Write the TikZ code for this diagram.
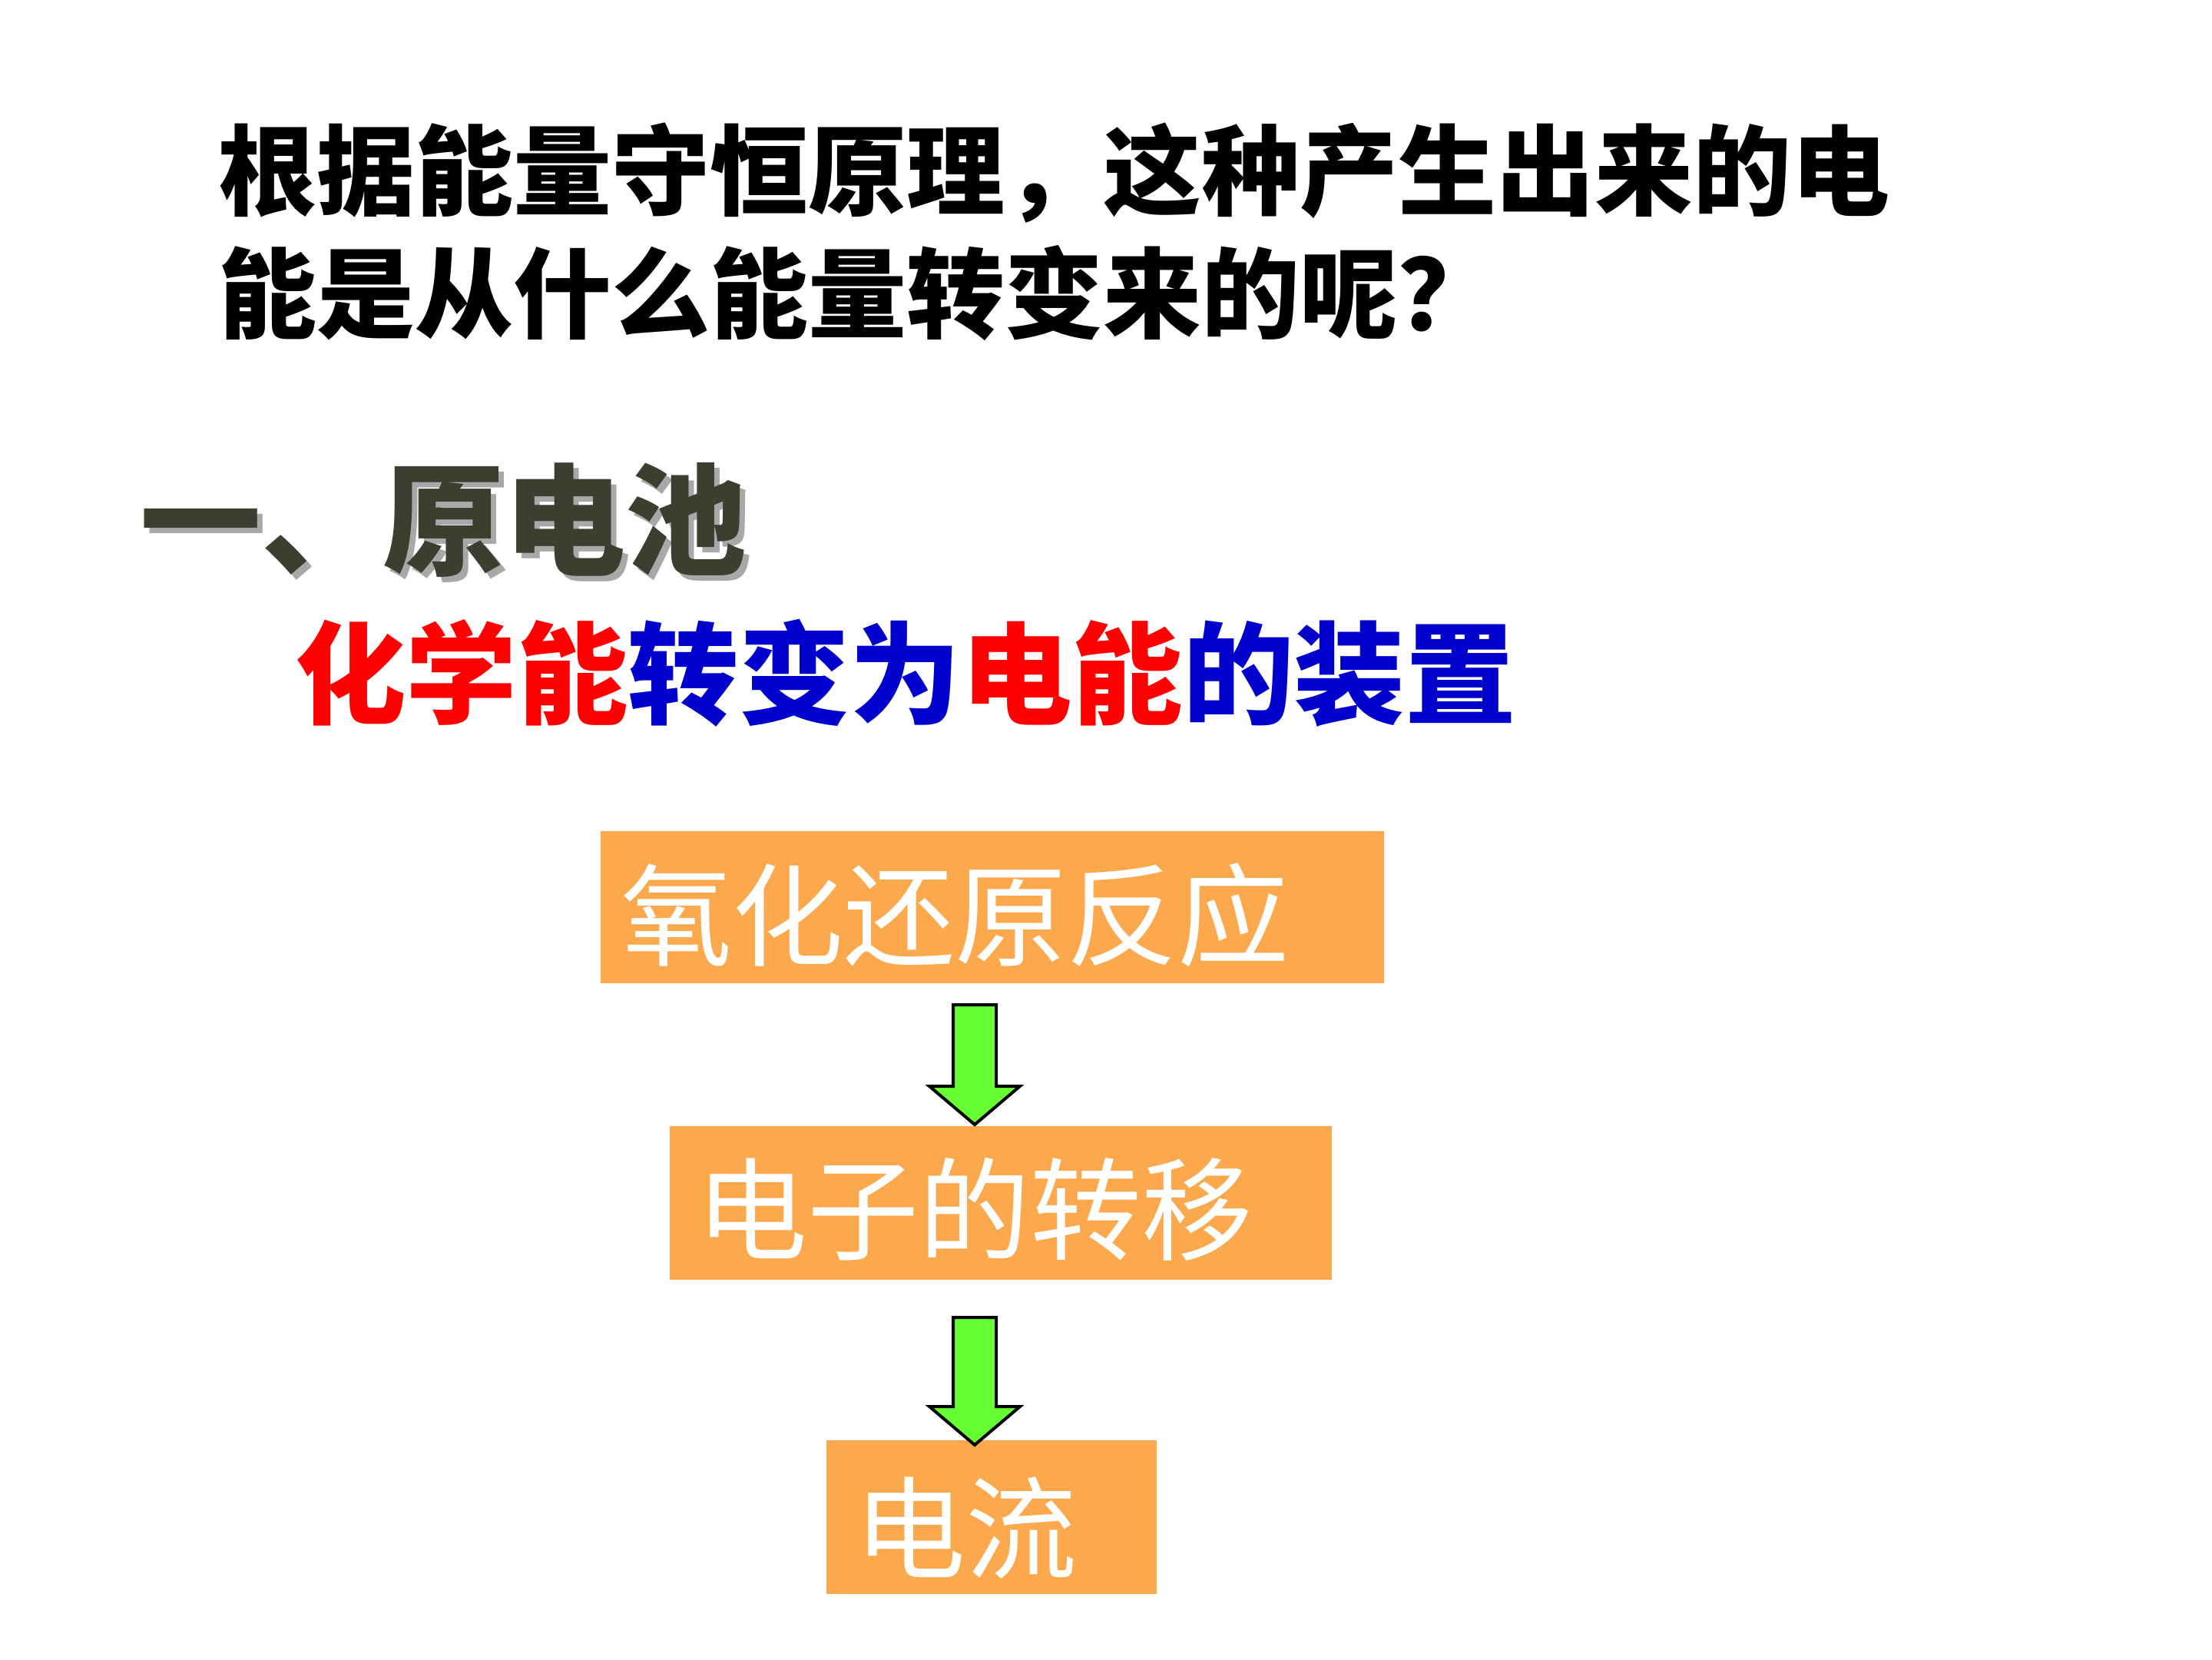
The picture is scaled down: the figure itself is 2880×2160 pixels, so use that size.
\documentclass[tikz,border=0pt]{standalone}
\usepackage{fontspec}
\newfontfamily\cjk{Noto Sans CJK SC}
\usetikzlibrary{calc}
\definecolor{boxorange}{HTML}{FCA94E}
\definecolor{arrowgreen}{HTML}{66FF33}
\definecolor{headgray}{HTML}{3D3D30}
\definecolor{shadowgray}{HTML}{A8A8A8}
\definecolor{redtext}{HTML}{FF0000}
\definecolor{bluetext}{HTML}{0000CC}
\newcommand\grarrow[4]{% x, top y, head base y, tip y
  \draw[arrowstyle] (#1-28,#2) -- (#1+28,#2) -- (#1+28,#3) -- (#1+59,#3) -- (#1,#4) -- (#1-59,#3) -- (#1-28,#3) -- cycle;}
\begin{document}
\begin{tikzpicture}[x=1pt,y=-1pt,
  orangebox/.style={fill=boxorange, draw=none, anchor=north west, inner sep=0pt},
  boxtext/.style={anchor=west, inner sep=0pt, text=white, font=\cjk\fontsize{145}{150}\selectfont},
  titletext/.style={anchor=west, inner sep=0pt, font=\cjk\bfseries\fontsize{128}{150}\selectfont},
  arrowstyle/.style={fill=arrowgreen, draw=black, line width=4pt, line join=miter}]
\useasboundingbox[fill=white] (0,0) rectangle (2880,2160);
% title
\node[titletext] (t1) at (284,225) {根据能量守恒原理，这种产生出来的电};
\node[titletext] (t2) at (284,382) {能是从什么能量转变来的呢？};
% heading with shadow
\node[anchor=west, inner sep=0pt, font=\cjk\bfseries\fontsize{158}{170}\selectfont] (h) at (182,680)
  {\makebox[0pt][l]{\hspace{7pt}\raisebox{-7pt}{\textcolor{shadowgray}{一、原电池}}}\textcolor{headgray}{一、原电池}};
% subtitle
\node[anchor=west, inner sep=0pt, font=\cjk\bfseries\fontsize{144.5}{160}\selectfont] (sub) at (384,876)
  {\textcolor{redtext}{化学能}\textcolor{bluetext}{转变为}\textcolor{redtext}{电能}\textcolor{bluetext}{的装置}};
% boxes
\node[orangebox, minimum width=1020pt, minimum height=198pt] (b1) at (782,1082) {};
\node[orangebox, minimum width=862pt, minimum height=200pt] (b2) at (872,1466) {};
\node[orangebox, minimum width=430pt, minimum height=200pt] (b3) at (1076,1875) {};
\node[boxtext] (l1) at ($(b1.west)+(26,10)$) {氧化还原反应};
\node[boxtext] (l2) at ($(b2.west)+(34,8)$) {电子的转移};
\node[boxtext] (l3) at ($(b3.west)+(36,14)$) {电流};
% arrows
\grarrow{1269}{1308}{1414}{1464}
\grarrow{1269}{1715}{1831}{1881}
\end{tikzpicture}
\end{document}
